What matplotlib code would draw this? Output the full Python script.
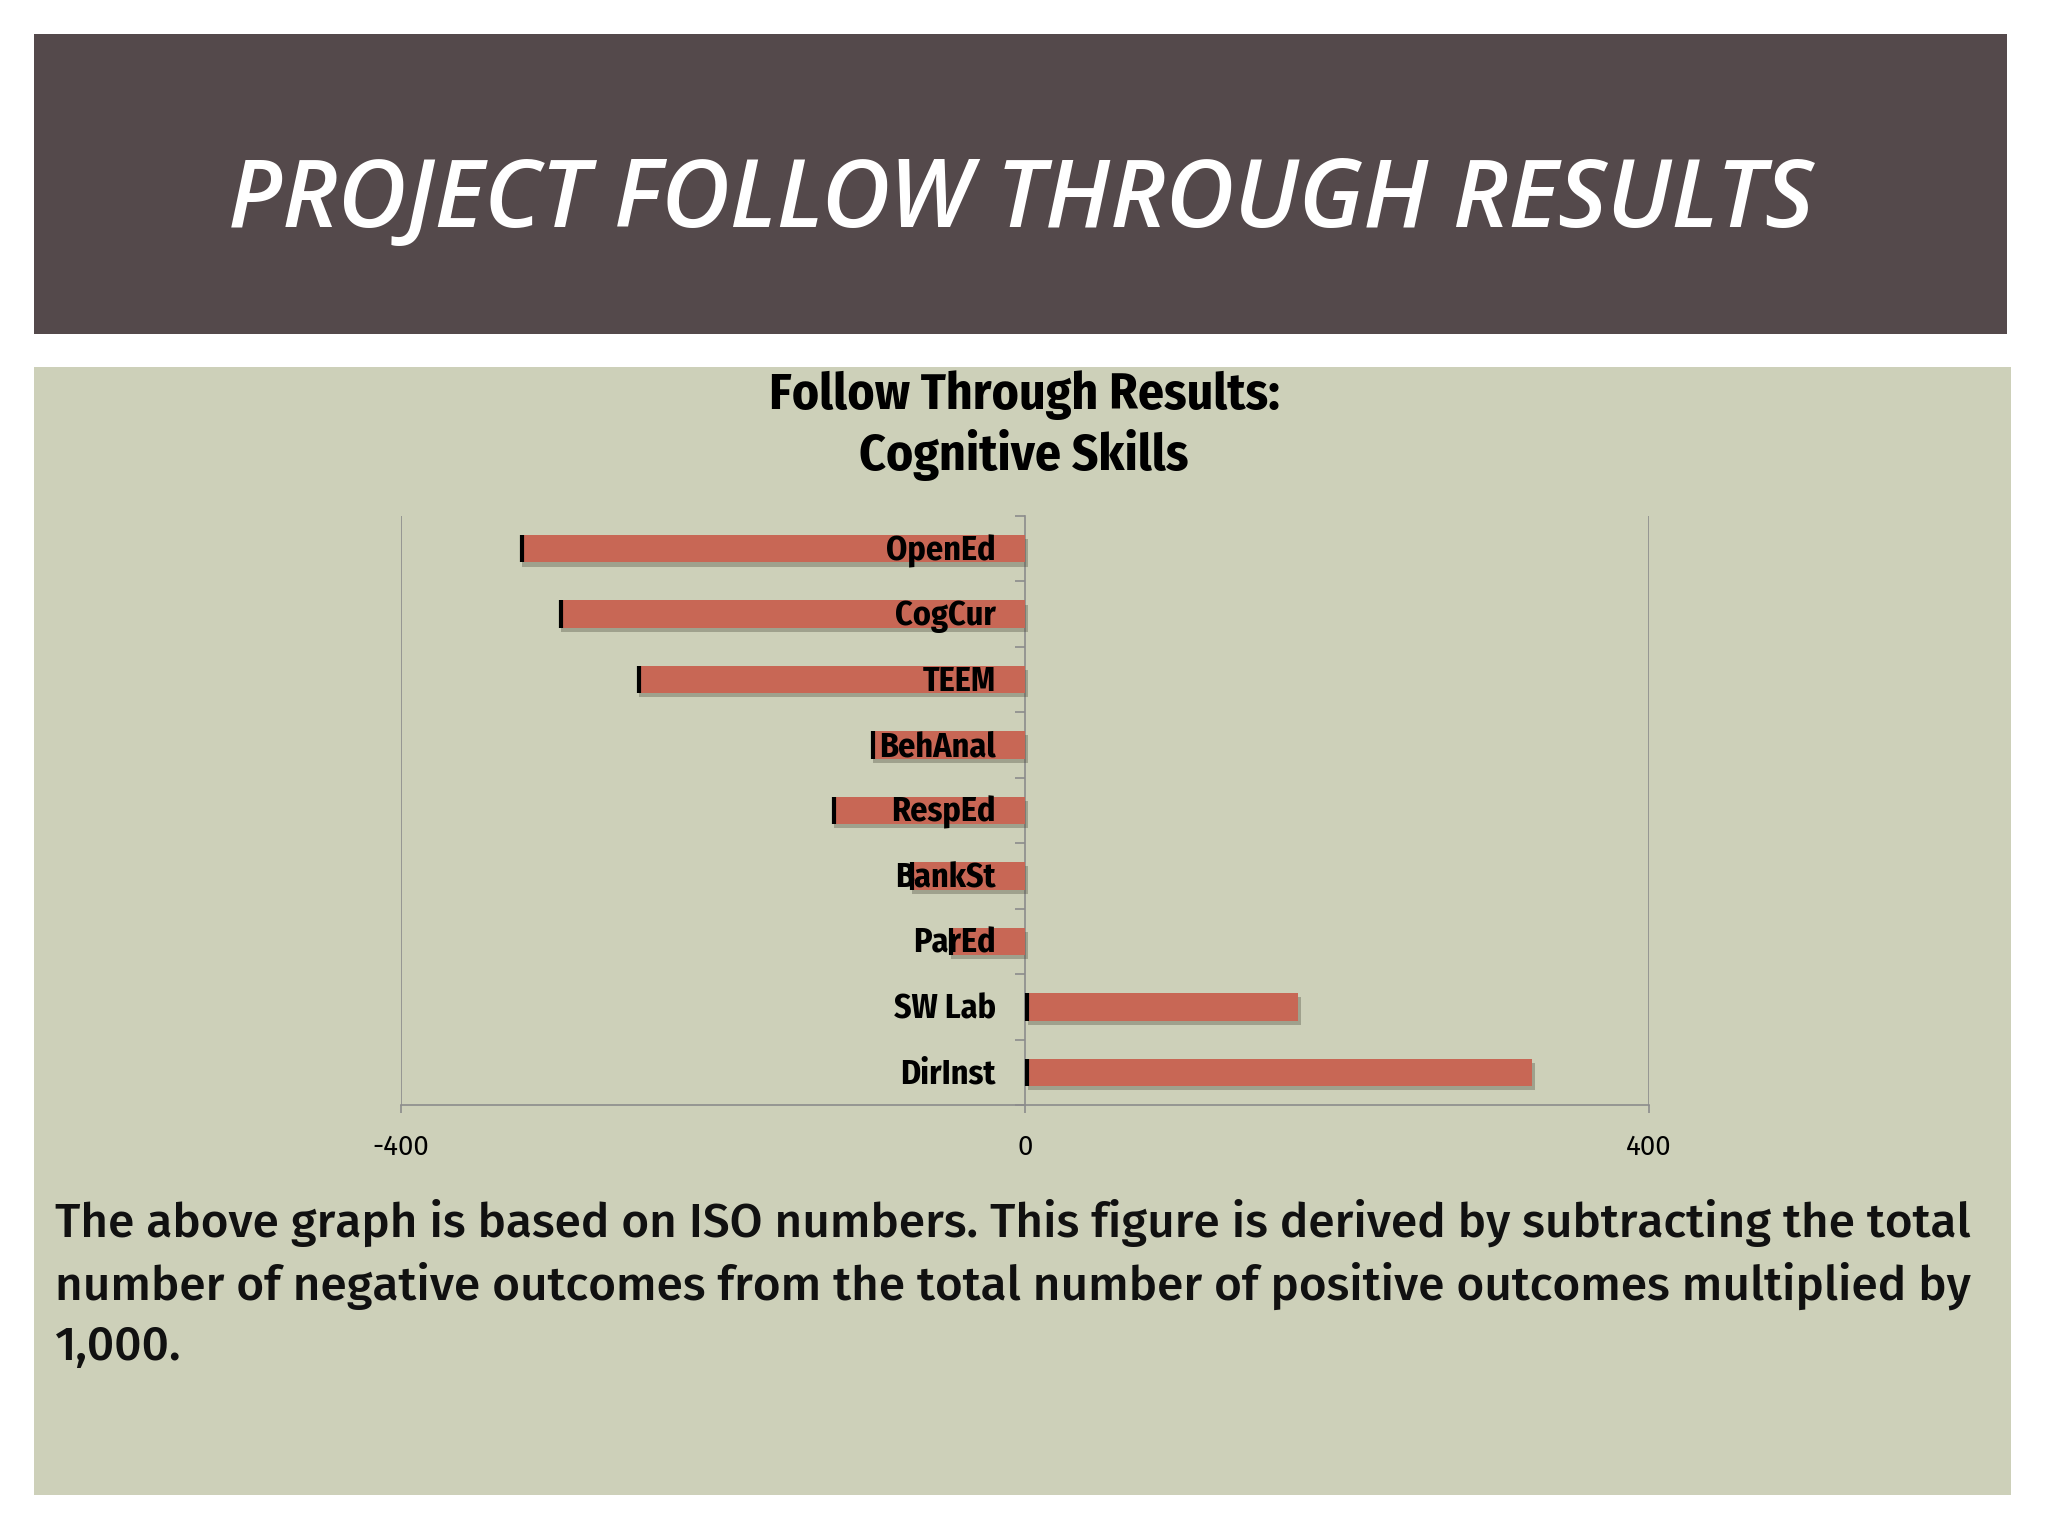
import numpy as np
import matplotlib
matplotlib.use("Agg")
import matplotlib.pyplot as plt
import matplotlib.patheffects as pe
from matplotlib.patches import Rectangle

# data (ISO numbers)
programs = ["OpenEd", "CogCur", "TEEM", "BehAnal", "RespEd",
            "BankSt", "ParEd", "SW Lab", "DirInst"]
iso_scores = [-324, -299, -249, -99, -124, -74, -49, 175, 325]
x_ticks = [-400, 0, 400]

slide_title = "PROJECT FOLLOW THROUGH RESULTS"
chart_title = "Follow Through Results:\nCognitive Skills"
note = ("The above graph is based on ISO numbers. This figure is derived by subtracting the total\n"
        "number of negative outcomes from the total number of positive outcomes multiplied by\n"
        "1,000.")

cond = ["Fira Sans Condensed", "DejaVu Sans"]
plain = ["Fira Sans", "DejaVu Sans"]
head = ["Open Sans", "DejaVu Sans"]

fig = plt.figure(figsize=(20.48, 15.36), dpi=100)
fig.patch.set_facecolor("white")

# slide background pieces
fig.patches.append(Rectangle((0.0166, 0.7823), 0.9636, 0.1956, transform=fig.transFigure,
                             facecolor="#54494B", edgecolor="none", zorder=0))
fig.patches.append(Rectangle((0.0166, 0.0264), 0.9655, 0.7347, transform=fig.transFigure,
                             facecolor="#CDD0B9", edgecolor="none", zorder=0))

fig.text(0.4987, 0.868, slide_title, color="white", fontsize=68, style="italic",
         fontweight=600, family=head, ha="center", va="center")
fig.text(0.5, 0.7228, chart_title, fontsize=37, fontweight="bold", family=cond,
         ha="center", va="center", linespacing=1.22)
fig.text(0.0268, 0.164, note, fontsize=34.4, fontweight=500, family=plain, ha="left",
         va="center", linespacing=1.39, color="#111111")

ax = fig.add_axes([0.1958, 0.2806, 0.6094, 0.3835], zorder=3)
ax.set_facecolor("none")

ypos = np.arange(len(programs))
bar_h = 0.42
bars = ax.barh(ypos, iso_scores, height=bar_h, color="#C86755", zorder=3)
for b in bars:
    b.set_path_effects([pe.SimplePatchShadow(offset=(2, -3), shadow_rgbFace="#4a4a3c", alpha=0.35),
                        pe.Normal()])

# black end marks at the left edge of every bar
lefts = np.minimum(iso_scores, 0)
ax.vlines(lefts + 1.5, ypos - bar_h / 2, ypos + bar_h / 2, color="black", lw=3, zorder=4)

for y, name in zip(ypos, programs):
    ax.annotate(name, xy=(0, y), xytext=(-21, -1.5), textcoords="offset points",
                ha="right", va="center", fontsize=24.5, fontweight="bold",
                family=cond, zorder=5)

ax.set_xlim(-400, 400)
ax.set_ylim(len(programs) - 0.5, -0.5)
ax.set_xticks(x_ticks)
ax.set_xticklabels([str(v) for v in x_ticks], family=plain, fontsize=20)
ax.tick_params(axis="x", direction="out", length=6, width=1.2, color="#8C8C8C", pad=15)

for side in ["top", "right"]:
    ax.spines[side].set_visible(False)
ax.spines["bottom"].set_color("#8C8C8C")
ax.spines["bottom"].set_linewidth(1.2)
ax.spines["left"].set_position(("data", 0))
ax.spines["left"].set_color("#8C8C8C")
ax.spines["left"].set_linewidth(1.2)
ax.spines["left"].set_zorder(2)

ax.set_yticks([])
ax.set_yticks(np.arange(len(programs) + 1) - 0.5, minor=True)
ax.tick_params(axis="y", which="minor", direction="out", length=7, width=1.2,
               color="#8C8C8C", labelleft=False)

for xv in [-400, 400]:
    ax.axvline(xv, color="#8C8C8C", lw=1.2, zorder=1)

fig.savefig("out.png", dpi=100, facecolor=fig.get_facecolor())
